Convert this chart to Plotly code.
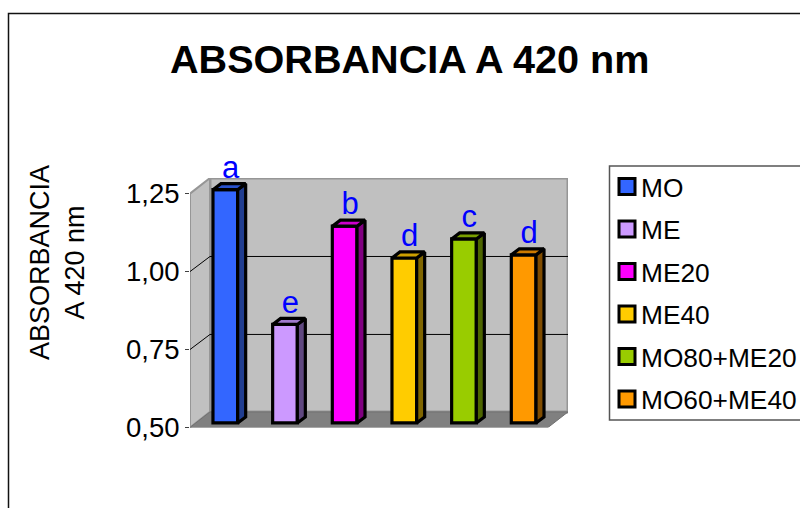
import plotly.graph_objects as go

series = ["MO", "ME", "ME20", "ME40", "MO80+ME20", "MO60+ME40"]
values = [1.248, 0.816, 1.131, 1.029, 1.090, 1.039]
letters = ["a", "e", "b", "d", "c", "d"]
front_colors = ["#3366FF", "#CC99FF", "#FF00FF", "#FFCC00", "#99CC00", "#FF9900"]
side_colors = ["#203D90", "#604880", "#800080", "#806600", "#4D6600", "#804C00"]
top_colors = ["#2952CC", "#A07ACC", "#CC00CC", "#CC9F00", "#7A9F00", "#CC7A00"]
tick_vals = [0.50, 0.75, 1.00, 1.25]
tick_text = ["0,50", "0,75", "1,00", "1,25"]

W, H = 800, 508
PX_X = 59.67          # pixels per category
PX_Y = 310.0          # pixels per y unit
WALL_DX = 20 / PX_X
WALL_DY = 15.5 / PX_Y
BAR_W = 24.7 / PX_X
BAR_DX = 8 / PX_X
BAR_DY = 6 / PX_Y
LIFT = 4.5 / PX_Y
SHIFT = 0.092
Y0 = 0.5
X_END = 6 + WALL_DX
Y_END = 1.25 + WALL_DY
EDGE = 3.2

fig = go.Figure()

for i, (name, v) in enumerate(zip(series, values)):
    cx = i + 0.5 + SHIFT
    l, r = cx - BAR_W / 2, cx + BAR_W / 2
    base = Y0 + LIFT
    top = v + LIFT
    fig.add_trace(go.Bar(x=[cx], y=[v - Y0], base=[base], width=[BAR_W], name=name,
                         legendgroup=name, marker=dict(color=front_colors[i], line=dict(color="black", width=EDGE)),
                         hoverinfo="name+y"))
    fig.add_trace(go.Scatter(x=[r, r + BAR_DX, r + BAR_DX, r, r], y=[base, base + BAR_DY, top + BAR_DY, top, base],
                             mode="lines", fill="toself", fillcolor=side_colors[i],
                             line=dict(color="black", width=EDGE), showlegend=False, hoverinfo="skip"))
    fig.add_trace(go.Scatter(x=[l, l + BAR_DX, r + BAR_DX, r, l], y=[top, top + BAR_DY, top + BAR_DY, top, top],
                             mode="lines", fill="toself", fillcolor=top_colors[i],
                             line=dict(color="black", width=EDGE), showlegend=False, hoverinfo="skip"))

fig.add_trace(go.Scatter(x=[i + 0.5 + SHIFT + 0.09 for i in range(6)],
                         y=[v + LIFT + 4 / PX_Y for v in values],
                         mode="text", text=letters, textposition="top center",
                         textfont=dict(family="Liberation Sans, Arial", size=31, color="#0000FF"),
                         showlegend=False, hoverinfo="skip", cliponaxis=False))

shapes = [
    dict(type="rect", xref="paper", yref="paper", x0=8.5 / W, x1=1.2, y0=-0.2, y1=1 - 13.5 / H,
         line=dict(color="#111111", width=1.5), fillcolor="white", layer="below"),
    # legend box
    dict(type="rect", xref="paper", yref="paper", x0=609.5 / W, x1=1.2, y0=1 - 420 / H, y1=1 - 166 / H,
         line=dict(color="#555555", width=1.5), layer="below"),
    # back wall
    dict(type="path", xref="x", yref="y", layer="below", fillcolor="#C0C0C0", line=dict(color="#969696", width=3),
         path=f"M{WALL_DX},{Y0 + WALL_DY} L{WALL_DX},{Y_END} L{X_END},{Y_END} L{X_END},{Y0 + WALL_DY} Z"),
    # side wall
    dict(type="path", xref="x", yref="y", layer="below", fillcolor="#C0C0C0", line=dict(color="#969696", width=2),
         path=f"M0,{Y0} L0,1.25 L{WALL_DX},{Y_END} L{WALL_DX},{Y0 + WALL_DY} Z"),
    # floor
    dict(type="path", xref="x", yref="y", layer="below", fillcolor="#808080", line=dict(color="#707070", width=1),
         path=f"M0,{Y0} L6,{Y0} L{X_END},{Y0 + WALL_DY} L{WALL_DX},{Y0 + WALL_DY} Z"),
]
GRID_NUDGE = 0.5 / PX_Y
for t in tick_vals[1:3]:
    shapes.append(dict(type="path", xref="x", yref="y", layer="below", line=dict(color="black", width=1),
                       path=f"M0,{t} L{WALL_DX},{t + WALL_DY - GRID_NUDGE} L{X_END},{t + WALL_DY - GRID_NUDGE}"))

font = "Liberation Sans, Arial"
annotations = [
    dict(text="<b>ABSORBANCIA A 420 nm</b>", xref="paper", yref="paper", x=409 / W, y=1 - 59 / H,
         xanchor="center", yanchor="middle", showarrow=False, font=dict(family=font, size=39.6, color="black")),
    dict(text="ABSORBANCIA<br>A 420 nm", xref="paper", yref="paper", x=57 / W, y=1 - 262 / H, textangle=-90,
         xanchor="center", yanchor="middle", showarrow=False,
         font=dict(family=font, size=27, color="black"), align="center"),
]

fig.update_layout(
    width=W, height=H, margin=dict(l=0, r=0, t=0, b=0, autoexpand=False), autosize=False,
    paper_bgcolor="white", plot_bgcolor="rgba(0,0,0,0)", barmode="overlay", showlegend=True,
    xaxis=dict(domain=[190 / W, 568 / W], range=[0, X_END], showgrid=False, zeroline=False,
               showticklabels=False, ticks="", showline=False),
    yaxis=dict(domain=[(H - 427.5) / H, (H - 178) / H], range=[Y0, Y_END], tickvals=tick_vals, ticktext=tick_text,
               showgrid=False, zeroline=False, showline=False, ticks="outside", ticklen=4, tickcolor="#404040",
               tickfont=dict(family=font, size=27.5, color="black")),
    legend=dict(x=607 / W, y=1 - 163 / H, xanchor="left", yanchor="top", bgcolor="rgba(0,0,0,0)",
                borderwidth=0, tracegroupgap=5.3,
                font=dict(family=font, size=26.3, color="black"), traceorder="grouped"),
    shapes=shapes, annotations=annotations,
)
post = """
document.documentElement.style.overflow='hidden';
document.body.style.margin='0';
document.body.style.overflow='hidden';
document.querySelectorAll('.legend .legendtext').forEach(function(t){
  t.setAttribute('x', parseFloat(t.getAttribute('x')) - 6);
});
document.querySelectorAll('.legend .legendpoints path').forEach(function(p){
  p.setAttribute('d','M8,8H-8V-8H8Z');
  p.style.strokeWidth='3px';
});
"""
fig.write_html("out.html", config={"displayModeBar": False}, post_script=post)
